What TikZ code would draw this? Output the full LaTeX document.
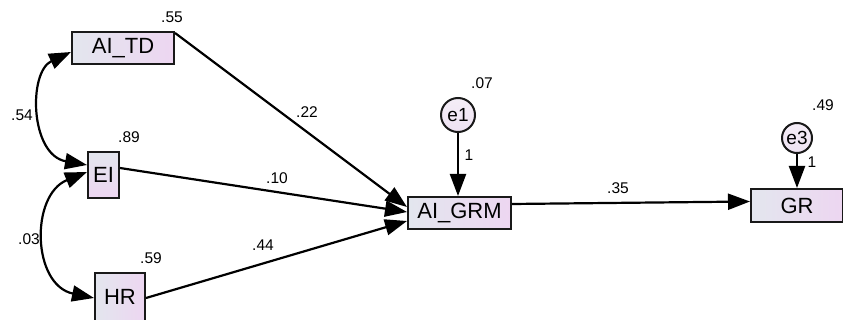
\documentclass[tikz,border=0pt]{standalone}
\usepackage{fontspec}
\setmainfont{Liberation Sans}
\usetikzlibrary{arrows.meta}
\definecolor{boxL}{HTML}{E3E6EE}
\definecolor{boxR}{HTML}{EDD6F1}
\definecolor{errC}{HTML}{EEE2F2}
\tikzset{
  obs/.style={draw=black!90, line width=2pt, inner sep=0pt,
    left color=boxL, right color=boxR, font=\fontsize{22}{22}\selectfont},
  obsv/.style={draw=black!90, line width=2pt, inner sep=0pt,
    top color=boxL, bottom color=boxR, font=\fontsize{22}{22}\selectfont},
  err/.style={circle, draw=black!90, line width=2pt, inner sep=0pt,
    top color=errC!60!white, bottom color=errC, font=\fontsize{19}{19}\selectfont},
  val/.style={inner sep=0pt, font=\fontsize{15.5}{15.5}\selectfont},
  path/.style={line width=2.2pt, black, -{Triangle[length=22pt,width=16pt]}},
  cov/.style={line width=2.2pt, black,
    {Triangle[length=22pt,width=16pt]}-{Triangle[length=22pt,width=16pt]}}
}
\begin{document}
\begin{tikzpicture}[x=1pt,y=-1pt]
\useasboundingbox (0,0) rectangle (843,320);

% observed variables
\node[obs, minimum width=102pt, minimum height=32pt] (td) at (123,48) {AI\_TD};
\node[obsv, minimum width=31pt, minimum height=46pt] (ei) at (103.5,175) {EI};
\node[obs, minimum width=50pt, minimum height=48pt] (hr) at (120,297) {HR};
\node[obs, minimum width=103pt, minimum height=32pt] (grm) at (459.5,213) {AI\_GRM};
\node[obs, minimum width=92pt, minimum height=33pt] (gr) at (797,205.5) {GR};

% error terms
\node[err, minimum size=34pt] (e1) at (458,115) {e1};
\node[err, minimum size=30pt] (e3) at (797,138) {e3};

% regression paths
\draw[path] ([shift={(0,2)}]td.north east) -- ([shift={(0,-6)}]grm.west);
\draw[path] ([shift={(0,-7)}]ei.east) -- ([shift={(0,-1)}]grm.west);
\draw[path] ([shift={(0,1)}]hr.east) -- ([shift={(0,8)}]grm.west);
\draw[path] ([shift={(0,-9)}]grm.east) -- ([shift={(0,-4)}]gr.west);
\draw[path] (e1.south) -- (e1.south |- grm.north);
\draw[path] (e3.south) -- (e3.south |- gr.north);

% covariances
\draw[cov] ([shift={(0,4)}]td.west) .. controls (28,72) and (30,155) .. ([shift={(0,-10)}]ei.west);
\draw[cov] ([shift={(0,-3)}]ei.west) .. controls (30,195) and (32,285) .. ([shift={(0,1)}]hr.west);

% estimates
\node[val] (v55) at (172,17) {.55};
\node[val] (v89) at (129,137) {.89};
\node[val] (v59) at (151,258) {.59};
\node[val] (v54) at (22,115) {.54};
\node[val] (v03) at (29,239) {.03};
\node[val] (v22) at (307,112) {.22};
\node[val] (v10) at (277,178) {.10};
\node[val] (v44) at (263,245) {.44};
\node[val] (v07) at (482,83) {.07};
\node[val] (w1) at (469,155) {1};
\node[val] (v35) at (618,188) {.35};
\node[val] (v49) at (823,105) {.49};
\node[val] (w3) at (812,162) {1};
\end{tikzpicture}
\end{document}
